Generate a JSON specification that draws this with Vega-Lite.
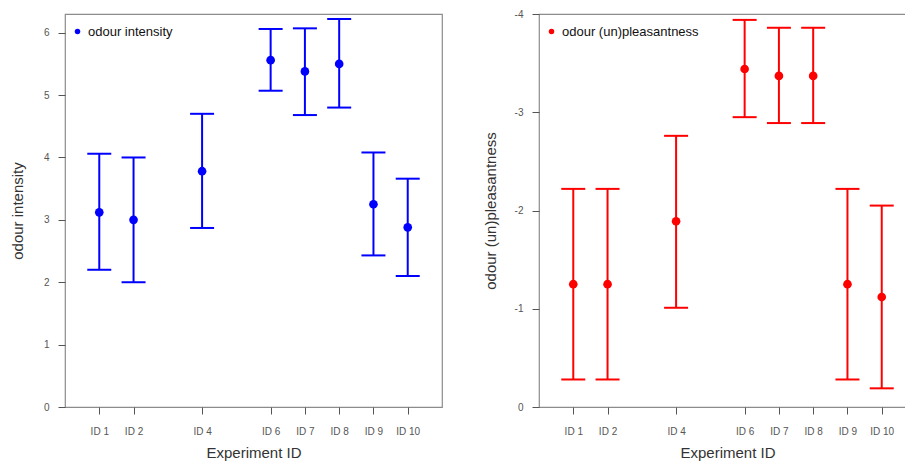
{
  "$schema": "https://vega.github.io/schema/vega-lite/v6.json",
  "padding": {"left": 9, "top": 8, "right": 0, "bottom": 0},
  "background": "white",
  "bounds": "flush",
  "spacing": 97,
  "config": {
    "font": "Liberation Sans",
    "view": {"stroke": "#8c8c8c", "strokeWidth": 1.2},
    "axis": {
      "grid": false,
      "domain": false,
      "tickColor": "#555555",
      "tickSize": 7,
      "tickWidth": 1,
      "labelColor": "#555555",
      "labelFontSize": 10,
      "titleFontSize": 15,
      "titleFontWeight": "normal",
      "titleColor": "#333333"
    },
    "axisX": {"labelPadding": 12, "titlePadding": 9},
    "axisY": {"labelPadding": 9, "titlePadding": 18},
    "legend": {
      "orient": "none",
      "legendX": 6,
      "legendY": 11,
      "labelFontSize": 13,
      "labelColor": "#111111",
      "symbolSize": 30,
      "symbolType": "circle",
      "title": null
    }
  },
  "datasets": {
    "intensity": [
      {"id": 1, "series": "odour intensity", "mean": 3.12, "lo": 2.2, "hi": 4.06},
      {"id": 2, "series": "odour intensity", "mean": 3.0, "lo": 2.0, "hi": 4.0},
      {"id": 4, "series": "odour intensity", "mean": 3.78, "lo": 2.87, "hi": 4.7},
      {"id": 6, "series": "odour intensity", "mean": 5.56, "lo": 5.07, "hi": 6.06},
      {"id": 7, "series": "odour intensity", "mean": 5.38, "lo": 4.68, "hi": 6.07},
      {"id": 8, "series": "odour intensity", "mean": 5.5, "lo": 4.8, "hi": 6.22},
      {"id": 9, "series": "odour intensity", "mean": 3.25, "lo": 2.43, "hi": 4.08},
      {"id": 10, "series": "odour intensity", "mean": 2.88, "lo": 2.1, "hi": 3.66}
    ],
    "pleasant": [
      {"id": 1, "series": "odour (un)pleasantness", "mean": -1.25, "lo": -0.28, "hi": -2.22},
      {"id": 2, "series": "odour (un)pleasantness", "mean": -1.25, "lo": -0.28, "hi": -2.22},
      {"id": 4, "series": "odour (un)pleasantness", "mean": -1.89, "lo": -1.01, "hi": -2.76},
      {"id": 6, "series": "odour (un)pleasantness", "mean": -3.44, "lo": -2.95, "hi": -3.94},
      {"id": 7, "series": "odour (un)pleasantness", "mean": -3.37, "lo": -2.89, "hi": -3.86},
      {"id": 8, "series": "odour (un)pleasantness", "mean": -3.37, "lo": -2.89, "hi": -3.86},
      {"id": 9, "series": "odour (un)pleasantness", "mean": -1.25, "lo": -0.28, "hi": -2.22},
      {"id": 10, "series": "odour (un)pleasantness", "mean": -1.12, "lo": -0.19, "hi": -2.05}
    ]
  },
  "hconcat": [
    {
      "width": 377,
      "height": 393,
      "data": {"name": "intensity"},
      "layer": [
        {
          "mark": {"type": "rule", "strokeWidth": 2, "color": "#0000ff"},
          "encoding": {
            "x": {"field": "id", "type": "quantitative", "scale": {"domain": [0, 11], "nice": false, "zero": false},
                  "axis": {"title": "Experiment ID", "values": [1, 2, 4, 6, 7, 8, 9, 10], "labelExpr": "'ID ' + datum.value"}},
            "y": {"field": "lo", "type": "quantitative", "scale": {"domain": [0, 6.3], "nice": false},
                  "axis": {"title": "odour intensity", "values": [0, 1, 2, 3, 4, 5, 6], "format": "d"}},
            "y2": {"field": "hi"}
          }
        },
        {
          "mark": {"type": "tick", "orient": "horizontal", "size": 24, "thickness": 2, "color": "#0000ff", "opacity": 1},
          "encoding": {"x": {"field": "id", "type": "quantitative"}, "y": {"field": "lo", "type": "quantitative"}}
        },
        {
          "mark": {"type": "tick", "orient": "horizontal", "size": 24, "thickness": 2, "color": "#0000ff", "opacity": 1},
          "encoding": {"x": {"field": "id", "type": "quantitative"}, "y": {"field": "hi", "type": "quantitative"}}
        },
        {
          "mark": {"type": "point", "filled": true, "size": 75, "opacity": 1},
          "encoding": {
            "x": {"field": "id", "type": "quantitative"},
            "y": {"field": "mean", "type": "quantitative"},
            "color": {"field": "series", "type": "nominal", "scale": {"domain": ["odour intensity"], "range": ["#0000ff"]}}
          }
        }
      ]
    },
    {
      "width": 377,
      "height": 393,
      "data": {"name": "pleasant"},
      "layer": [
        {
          "mark": {"type": "rule", "strokeWidth": 2, "color": "#ff0000"},
          "encoding": {
            "x": {"field": "id", "type": "quantitative", "scale": {"domain": [0, 11], "nice": false, "zero": false},
                  "axis": {"title": "Experiment ID", "values": [1, 2, 4, 6, 7, 8, 9, 10], "labelExpr": "'ID ' + datum.value"}},
            "y": {"field": "lo", "type": "quantitative", "scale": {"domain": [-4, 0], "reverse": true, "nice": false, "zero": false},
                  "axis": {"title": "odour (un)pleasantness", "titlePadding": 16, "values": [-4, -3, -2, -1, 0], "labelExpr": "datum.value < 0 ? '-' + abs(datum.value) : '' + datum.value"}},
            "y2": {"field": "hi"}
          }
        },
        {
          "mark": {"type": "tick", "orient": "horizontal", "size": 24, "thickness": 2, "color": "#ff0000", "opacity": 1},
          "encoding": {"x": {"field": "id", "type": "quantitative"}, "y": {"field": "lo", "type": "quantitative"}}
        },
        {
          "mark": {"type": "tick", "orient": "horizontal", "size": 24, "thickness": 2, "color": "#ff0000", "opacity": 1},
          "encoding": {"x": {"field": "id", "type": "quantitative"}, "y": {"field": "hi", "type": "quantitative"}}
        },
        {
          "mark": {"type": "point", "filled": true, "size": 75, "opacity": 1},
          "encoding": {
            "x": {"field": "id", "type": "quantitative"},
            "y": {"field": "mean", "type": "quantitative"},
            "color": {"field": "series", "type": "nominal", "scale": {"domain": ["odour (un)pleasantness"], "range": ["#ff0000"]}}
          }
        }
      ]
    }
  ],
  "resolve": {"scale": {"color": "independent", "y": "independent"}, "legend": {"color": "independent"}}
}
